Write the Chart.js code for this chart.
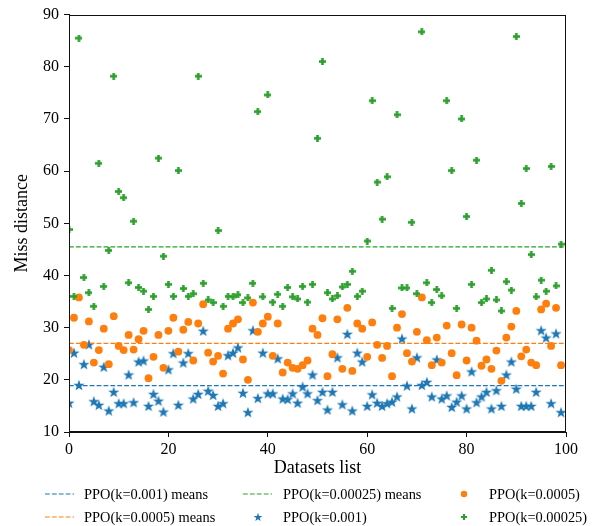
<!DOCTYPE html>
<html><head><meta charset="utf-8">
<script src="https://cdn.jsdelivr.net/npm/chart.js@4.4.0/dist/chart.umd.min.js"></script>
<style>
html,body{margin:0;padding:0;background:#fff;}
#wrap{position:relative;width:598px;height:526px;overflow:hidden;font-family:"Liberation Serif","Times New Roman",serif;}
#c{position:absolute;left:0;top:0;}
.lg{position:absolute;font-size:14.4px;line-height:16px;white-space:nowrap;color:#000;}
.lm{position:absolute;}
</style></head><body>
<div id="wrap"><canvas id="c" width="598" height="526"></canvas><div id="legend"></div></div>
<script>
// ---- data ----
const datasetIdx = [0,1,2,3,4,5,6,7,8,9,10,11,12,13,14,15,16,17,18,19,20,21,22,23,24,25,26,27,28,29,30,31,32,33,34,35,36,37,38,39,40,41,42,43,44,45,46,47,48,49,50,51,52,53,54,55,56,57,58,59,60,61,62,63,64,65,66,67,68,69,70,71,72,73,74,75,76,77,78,79,80,81,82,83,84,85,86,87,88,89,90,91,92,93,94,95,96,97,98,99];
const ppo001 = [15.6,25.2,19.0,23.0,26.8,15.9,15.2,22.5,14.1,17.7,15.5,15.5,21.0,15.7,23.5,23.7,15.0,17.3,16.0,13.9,22.0,25.1,15.2,23.3,25.1,16.4,17.3,29.4,17.9,17.1,15.0,15.5,24.7,25.2,26.2,17.5,13.8,29.5,16.5,25.2,17.4,17.4,24.1,16.4,16.3,17.4,15.6,18.7,17.4,21.0,16.1,17.7,14.3,17.7,24.3,15.3,28.8,14.1,25.2,23.5,15.0,17.2,15.6,15.0,15.5,15.8,16.8,27.9,18.9,14.5,24.3,19.0,19.6,16.8,23.9,16.4,17.0,14.8,15.8,17.0,14.5,21.6,15.7,16.8,17.7,14.5,18.0,15.0,21.0,23.5,18.3,15.0,15.0,15.0,17.7,29.5,28.1,15.5,28.9,13.8];
const ppo0005 = [25.7,31.9,35.8,26.7,31.2,23.3,25.7,29.8,23.0,32.2,26.5,25.7,28.6,25.8,27.8,29.4,20.3,24.4,28.6,22.3,29.4,31.9,25.4,29.6,31.1,23.7,30.8,34.5,25.2,23.5,24.6,21.2,29.8,30.8,31.6,23.9,20.0,34.8,29.2,30.8,32.1,24.6,30.8,21.4,23.3,22.3,22.1,22.8,23.7,29.8,28.6,31.8,20.7,24.9,31.6,22.1,33.8,21.7,30.8,29.8,24.4,31.0,26.7,24.2,26.5,20.7,30.0,32.6,25.1,23.5,29.2,35.8,27.6,22.8,28.1,23.3,30.4,25.1,20.9,30.6,23.7,30.0,27.5,22.7,23.9,22.1,25.6,19.8,28.1,30.2,33.2,24.5,25.8,23.3,22.8,33.5,34.6,26.5,33.8,22.8];
const ppo00025 = [48.8,36.0,85.5,39.6,36.7,34.1,61.5,37.9,44.8,78.2,56.1,54.9,38.6,50.4,37.7,37.0,33.5,36.0,62.5,43.7,38.3,36.0,60.1,37.5,36.0,36.5,78.2,38.5,35.3,34.8,48.6,34.1,36.0,35.9,36.3,34.8,35.7,38.5,71.4,35.9,74.6,34.9,36.4,34.1,37.7,35.9,35.5,37.9,34.9,38.3,66.3,81.0,36.7,35.5,36.1,37.8,38.3,40.8,36.0,37.0,46.6,73.5,57.9,50.8,58.9,33.7,70.8,37.6,37.6,50.2,36.5,86.7,38.6,34.8,37.3,36.1,73.5,60.1,33.7,70.0,51.3,38.3,62.1,34.8,35.5,41.0,35.3,33.2,38.8,37.2,85.8,53.8,60.5,44.0,35.9,39.1,37.0,60.9,38.0,46.0];
const meanValues = {k001: 18.9, k0005: 27.0, k00025: 45.5};
const xRange = [0, 100];
const yRange = [10, 90];
const xTickStep = 20, yTickStep = 10;
const labels = {
  mean001: 'PPO(k=0.001) means', mean0005: 'PPO(k=0.0005) means', mean00025: 'PPO(k=0.00025) means',
  s001: 'PPO(k=0.001)', s0005: 'PPO(k=0.0005)', s00025: 'PPO(k=0.00025)'
};
// ---- styles ----
const BLUE = '#1f77b4', ORANGE = '#ff7f0e', GREEN = '#2ca02c';
const FONT = '"Liberation Serif","Times New Roman",serif';

function starCanvas(R, color){
  const s = Math.ceil(R*2)+2; const c = document.createElement('canvas'); c.width = s; c.height = s;
  const g = c.getContext('2d'); g.fillStyle = color; g.beginPath();
  const r = R*0.40;
  for(let i=0;i<10;i++){ const a = -Math.PI/2 + i*Math.PI/5; const rr = i%2?r:R;
    const px = s/2 + rr*Math.cos(a), py = s/2 + 0.6 + rr*Math.sin(a); i?g.lineTo(px,py):g.moveTo(px,py);}
  g.closePath(); g.fill(); return c;
}
function plusCanvas(S, arm, color){
  const c = document.createElement('canvas'); c.width = S; c.height = S;
  const g = c.getContext('2d'); g.fillStyle = color;
  const o = (S-arm)/2; g.fillRect(0,o,S,arm); g.fillRect(o,0,arm,S); return c;
}
const starImg = starCanvas(5.9, BLUE);
const plusImg = plusCanvas(7, 2.6, GREEN);

const toPts = vals => vals.map((v,i)=>({x: datasetIdx[i], y: v}));
const hline = m => [{x: xRange[0], y: m}, {x: xRange[1], y: m}];
const dash = [4.8, 2.1];

const frame = {
  id: 'frame',
  afterDatasetsDraw(chart){
    const a = chart.chartArea, g = chart.ctx;
    g.save(); g.strokeStyle = '#111'; g.lineWidth = 1;
    g.strokeRect(Math.round(a.left)+0.5, Math.round(a.top)+0.5, Math.round(a.right-a.left)-1, Math.round(a.bottom-a.top)-1);
    g.restore();
  }
};

new Chart(document.getElementById('c'), {
  type: 'scatter',
  data: { datasets: [
    {label: labels.mean001, data: hline(meanValues.k001), showLine: true, borderColor: BLUE, borderWidth: 1.2, borderDash: dash, pointRadius: 0, order: 0, clip: 0},
    {label: labels.mean0005, data: hline(meanValues.k0005), showLine: true, borderColor: ORANGE, borderWidth: 1.2, borderDash: dash, pointRadius: 0, order: 0, clip: 0},
    {label: labels.mean00025, data: hline(meanValues.k00025), showLine: true, borderColor: GREEN, borderWidth: 1.2, borderDash: dash, pointRadius: 0, order: 0, clip: 0},
    {label: labels.s00025, data: toPts(ppo00025), pointStyle: plusImg, pointRadius: 3, order: 1, clip: 0},
    {label: labels.s0005, data: toPts(ppo0005), pointStyle: 'circle', pointRadius: 3.9, backgroundColor: ORANGE, borderWidth: 0, order: 2, clip: 0},
    {label: labels.s001, data: toPts(ppo001), pointStyle: starImg, pointRadius: 3, order: 3, clip: 0}
  ]},
  options: {
    responsive: false, animation: false, devicePixelRatio: 1,
    layout: {padding: {left: 0, top: 14, right: 32, bottom: 47}},
    plugins: {legend: {display: false}, tooltip: {enabled: false}},
    elements: {point: {hoverRadius: 0}},
    scales: {
      x: {type: 'linear', min: xRange[0], max: xRange[1],
        ticks: {stepSize: xTickStep, color: '#000', font: {family: FONT, size: 16}, padding: 3, maxRotation: 0},
        grid: {drawOnChartArea: false, drawTicks: true, tickLength: 5, color: '#111', lineWidth: 1},
        border: {display: true, color: '#111', width: 1},
        title: {display: true, text: 'Datasets list', color: '#000', font: {family: FONT, size: 18}, padding: 0},
        afterFit(s){ s.height = 47; }
      },
      y: {type: 'linear', min: yRange[0], max: yRange[1],
        ticks: {stepSize: yTickStep, color: '#000', font: {family: FONT, size: 16}, padding: 5},
        grid: {drawOnChartArea: false, drawTicks: true, tickLength: 5, color: '#111', lineWidth: 1},
        border: {display: true, color: '#111', width: 1},
        title: {display: true, text: 'Miss distance', color: '#000', font: {family: FONT, size: 18}, padding: {top: 11, bottom: 0}},
        afterFit(s){ s.width = 69; }
      }
    }
  },
  plugins: [frame]
});

// ---- legend (HTML) ----
const legendItems = [
  {kind: 'line', color: BLUE, x: 45, tx: 84, y: 494, text: labels.mean001},
  {kind: 'line', color: ORANGE, x: 45, tx: 84, y: 517, text: labels.mean0005},
  {kind: 'line', color: GREEN, x: 243, tx: 283, y: 494, text: labels.mean00025},
  {kind: 'star', color: BLUE, x: 258, tx: 283, y: 517, text: labels.s001},
  {kind: 'circle', color: ORANGE, x: 464, tx: 489, y: 494, text: labels.s0005},
  {kind: 'plus', color: GREEN, x: 464, tx: 489, y: 517, text: labels.s00025}
];
const lg = document.getElementById('legend');
const NS = 'http://www.w3.org/2000/svg';
legendItems.forEach(it => {
  const svg = document.createElementNS(NS, 'svg');
  svg.setAttribute('class', 'lm');
  if (it.kind === 'line') {
    svg.setAttribute('width', 29); svg.setAttribute('height', 4);
    svg.style.left = it.x + 'px'; svg.style.top = (it.y - 2) + 'px';
    const l = document.createElementNS(NS, 'line');
    l.setAttribute('x1', 0); l.setAttribute('x2', 29); l.setAttribute('y1', 2); l.setAttribute('y2', 2);
    l.setAttribute('stroke', it.color); l.setAttribute('stroke-width', 1.2); l.setAttribute('stroke-dasharray', dash.join(' '));
    svg.appendChild(l);
  } else {
    svg.setAttribute('width', 12); svg.setAttribute('height', 12);
    svg.style.left = (it.x - 6) + 'px'; svg.style.top = (it.y - 6) + 'px';
    let el;
    if (it.kind === 'circle') {
      el = document.createElementNS(NS, 'circle'); el.setAttribute('cx', 6); el.setAttribute('cy', 6); el.setAttribute('r', 3.2);
    } else if (it.kind === 'star') {
      const R = 4.6, r = R*0.40, pts = [];
      for (let i=0;i<10;i++){ const a = -Math.PI/2 + i*Math.PI/5; const rr = i%2?r:R; pts.push((6+rr*Math.cos(a)).toFixed(2)+','+(6.4+rr*Math.sin(a)).toFixed(2)); }
      el = document.createElementNS(NS, 'polygon'); el.setAttribute('points', pts.join(' '));
    } else {
      el = document.createElementNS(NS, 'path'); el.setAttribute('d', 'M3,5 H9 V7 H3 Z M5,3 H7 V9 H5 Z');
    }
    el.setAttribute('fill', it.color); svg.appendChild(el);
  }
  lg.appendChild(svg);
  const d = document.createElement('div'); d.className = 'lg'; d.textContent = it.text;
  d.style.left = it.tx + 'px'; d.style.top = (it.y - 8) + 'px';
  lg.appendChild(d);
});
</script>
</body></html>
